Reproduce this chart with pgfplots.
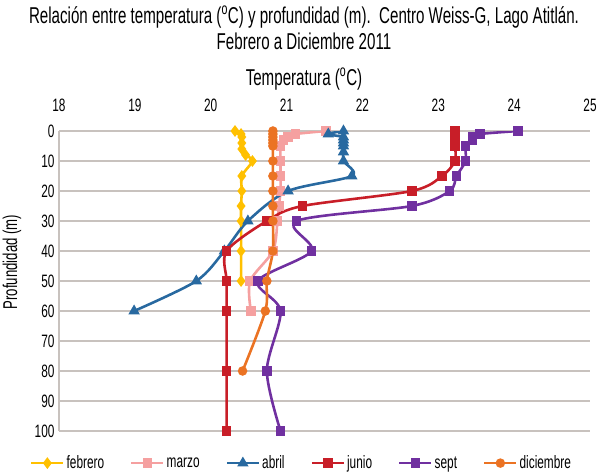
\documentclass[border=0pt]{standalone}
\usepackage{fontspec}
\setmainfont{Liberation Sans}[FakeStretch=0.66]
\usepackage{pgfplots}
\pgfplotsset{compat=1.18}
\usepackage{pgfplotstable}

\definecolor{gridgray}{RGB}{200,194,190}
\definecolor{cfeb}{RGB}{255,192,0}
\definecolor{cmar}{RGB}{245,160,160}
\definecolor{cabr}{RGB}{40,105,160}
\definecolor{cjun}{RGB}{200,30,40}
\definecolor{csep}{RGB}{112,48,160}
\definecolor{cdic}{RGB}{235,115,35}

\pgfplotstableread{
d t
0 20.32
1 20.40
2 20.41
4 20.41
6 20.41
8 20.46
10 20.55
15 20.41
20 20.41
25 20.40
30 20.40
40 20.40
50 20.40
}\febrero

\pgfplotstableread{
d t
0 21.52
1 21.12
2 21.02
3 20.96
5 20.92
10 20.92
15 20.92
20 20.92
25 20.90
30 20.88
40 20.82
50 20.52
60 20.53
}\marzo

\pgfplotstableread{
d t
0 21.75
1 21.55
2 21.75
3 21.75
4 21.75
5 21.75
7 21.75
10 21.75
15 21.86
20 21.02
30 20.49
40 20.18
50 19.81
60 18.99
}\abril

\pgfplotstableread{
d t
0 23.22
1 23.22
2 23.22
3 23.22
4 23.22
5 23.22
10 23.22
15 23.05
20 22.65
25 21.21
30 20.74
40 20.21
50 20.21
60 20.21
80 20.21
100 20.21
}\junio

\pgfplotstableread{
d t
0 24.05
1 23.55
2 23.45
3 23.45
5 23.36
10 23.36
15 23.24
20 23.15
25 22.65
30 21.13
40 21.33
50 20.62
60 20.92
80 20.74
100 20.92
}\sept

\pgfplotstableread{
d t
0 20.82
1 20.82
2 20.82
3 20.82
4 20.82
5 20.82
10 20.82
15 20.82
20 20.82
25 20.82
30 20.82
40 20.82
50 20.74
60 20.72
80 20.42
}\diciembre

\begin{document}
\begin{tikzpicture}
\begin{axis}[
  at={(0,0)}, anchor=south west,
  scale only axis, width=531bp, height=300bp,
  xmin=18, xmax=25, ymin=0, ymax=100, y dir=reverse,
  xtick={18,19,...,25}, ytick={0,10,...,100},
  xticklabel pos=top,
  ymajorgrids, grid style={gridgray, line width=1.1pt},
  axis line style={draw=none},
  major tick length=0pt,
  /pgf/number format/assume math mode=true,
  tick label style={font=\fontsize{18}{20}\selectfont},
  xticklabel style={anchor=center, yshift=26bp},
  yticklabel style={xshift=-1bp},
  title={Relación entre temperatura (\textsuperscript{o}C) y profundidad (m).\ \ Centro Weiss-G, Lago Atitlán.\\Febrero a Diciembre 2011},
  title style={at={(axis description cs:0.4614,1.325)}, anchor=center, align=center,
    font=\fontsize{23}{26}\selectfont},
  xlabel={Temperatura (\textsuperscript{o}C)},
  xlabel style={at={(axis description cs:0.4614,1.1733)}, anchor=center,
    font=\fontsize{23}{25}\selectfont},
  ylabel={Profundidad (m)},
  ylabel style={at={(axis description cs:-0.0885,0.563)}, anchor=center,
    font=\fontsize{20}{22}\selectfont},
  legend columns=6,
  legend style={at={(axis description cs:0.4567,-0.107)}, anchor=center, draw=none, fill=none,
    font=\fontsize{18}{20}\selectfont,
    /tikz/every even column/.append style={column sep=24bp}},
  legend image code/.code={\draw[mark repeat=2,mark phase=2,#1] plot coordinates {(0bp,0bp) (16bp,0bp) (32bp,0bp)};},
  every axis plot/.append style={line width=2.6pt, smooth, tension=0.5},
  extra description/.code={\draw[gridgray, line width=1.1pt] (axis description cs:0,0) -- (axis description cs:0,1);},
]
\addplot[cfeb, mark=diamond*, mark size=3.8pt] table[x=t, y=d] {\febrero};
\addlegendentry{febrero}
\addplot[cmar, mark=square*, mark size=3.5pt] table[x=t, y=d] {\marzo};
\addlegendentry{marzo}
\addplot[cabr, mark=triangle*, mark size=4pt] table[x=t, y=d] {\abril};
\addlegendentry{abril}
\addplot[cjun, mark=square*, mark size=3.5pt] table[x=t, y=d] {\junio};
\addlegendentry{junio}
\addplot[csep, mark=square*, mark size=3.5pt] table[x=t, y=d] {\sept};
\addlegendentry{sept}
\addplot[cdic, mark=*, mark size=3.4pt] table[x=t, y=d] {\diciembre};
\addlegendentry{diciembre}
\end{axis}
\pgfresetboundingbox
\path[use as bounding box] (-59bp,-42bp) rectangle (540bp,431bp);
\end{tikzpicture}
\end{document}
